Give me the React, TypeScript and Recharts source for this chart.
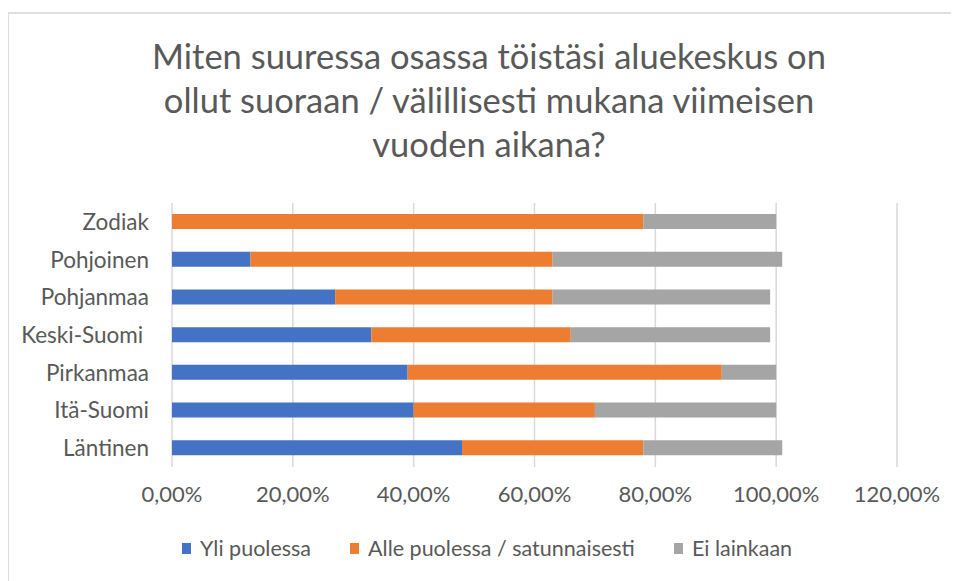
import { BarChart, Bar, XAxis, YAxis, CartesianGrid } from "recharts";

const regions = ["Zodiak", "Pohjoinen", "Pohjanmaa", "Keski-Suomi\u00a0", "Pirkanmaa", "Itä-Suomi", "Läntinen"];
const yliPuolessa = [0, 0.13, 0.27, 0.33, 0.39, 0.4, 0.48];
const allePuolessa = [0.78, 0.5, 0.36, 0.33, 0.52, 0.3, 0.3];
const eiLainkaan = [0.22, 0.38, 0.36, 0.33, 0.09, 0.3, 0.23];
const xTicks = [0, 0.2, 0.4, 0.6, 0.8, 1.0, 1.2];

const series = [
  { key: "yli", name: "Yli puolessa", color: "#4472c4" },
  { key: "alle", name: "Alle puolessa / satunnaisesti", color: "#ed7d31" },
  { key: "ei", name: "Ei lainkaan", color: "#a5a5a5" },
];

const data = regions.map((name, i) => ({
  name,
  yli: yliPuolessa[i],
  alle: allePuolessa[i],
  ei: eiLainkaan[i],
}));

const font = "Lato, 'Open Sans', sans-serif";
const textColor = "#595959";

const pct = (v: number) => (v * 100).toFixed(2).replace(".", ",") + "%";

export default function App() {
  return (
    <div style={{ position: "relative", width: 951, height: 573, fontFamily: font, overflow: "hidden" }}>
      <div
        style={{
          position: "absolute",
          left: -1,
          top: 4,
          width: 1000,
          height: 600,
          borderTop: "2px solid #dedede",
          borderLeft: "2px solid #dedede",
        }}
      />
      <div
        style={{
          position: "absolute",
          left: 0,
          top: 26,
          width: 962,
          textAlign: "center",
          fontSize: 34.5,
          lineHeight: "44px",
          color: textColor,
        }}
      >
        Miten suuressa osassa töistäsi aluekeskus on
        <br />
        ollut suoraan / välillisesti mukana viimeisen
        <br />
        vuoden aikana?
      </div>
      <div style={{ position: "absolute", left: 0, top: 0 }}>
        <BarChart
          width={951}
          height={573}
          data={data}
          layout="vertical"
          barSize={15}
          margin={{ top: 195, right: 62, bottom: 84, left: 0 }}
        >
          <CartesianGrid horizontal={false} stroke="#d9d9d9" strokeWidth={1.5} />
          <XAxis
            type="number"
            domain={[0, 1.2]}
            ticks={xTicks}
            tickFormatter={pct}
            axisLine={false}
            tickLine={false}
            tickSize={0}
            tickMargin={19}
            height={30}
            tick={{ fill: textColor, fontSize: 22, fontFamily: font }}
          />
          <YAxis
            type="category"
            dataKey="name"
            width={164}
            axisLine={false}
            tickLine={false}
            tickSize={0}
            tickMargin={23}
            tick={{ fill: textColor, fontSize: 22.5, fontFamily: font }}
          />
          {series.map((s) => (
            <Bar key={s.key} dataKey={s.key} name={s.name} stackId="a" fill={s.color} isAnimationActive={false} />
          ))}
        </BarChart>
      </div>
      <div
        style={{
          position: "absolute",
          left: 174,
          top: 527,
          display: "flex",
          alignItems: "center",
          fontSize: 21.5,
          color: textColor,
          whiteSpace: "nowrap",
        }}
      >
        {series.map((s) => (
          <div key={s.key} style={{ display: "flex", alignItems: "center", marginRight: 39 }}>
            <span style={{ display: "inline-block", width: 9, height: 11, background: s.color, marginRight: 9 }} />
            <span>{s.name}</span>
          </div>
        ))}
      </div>
    </div>
  );
}
